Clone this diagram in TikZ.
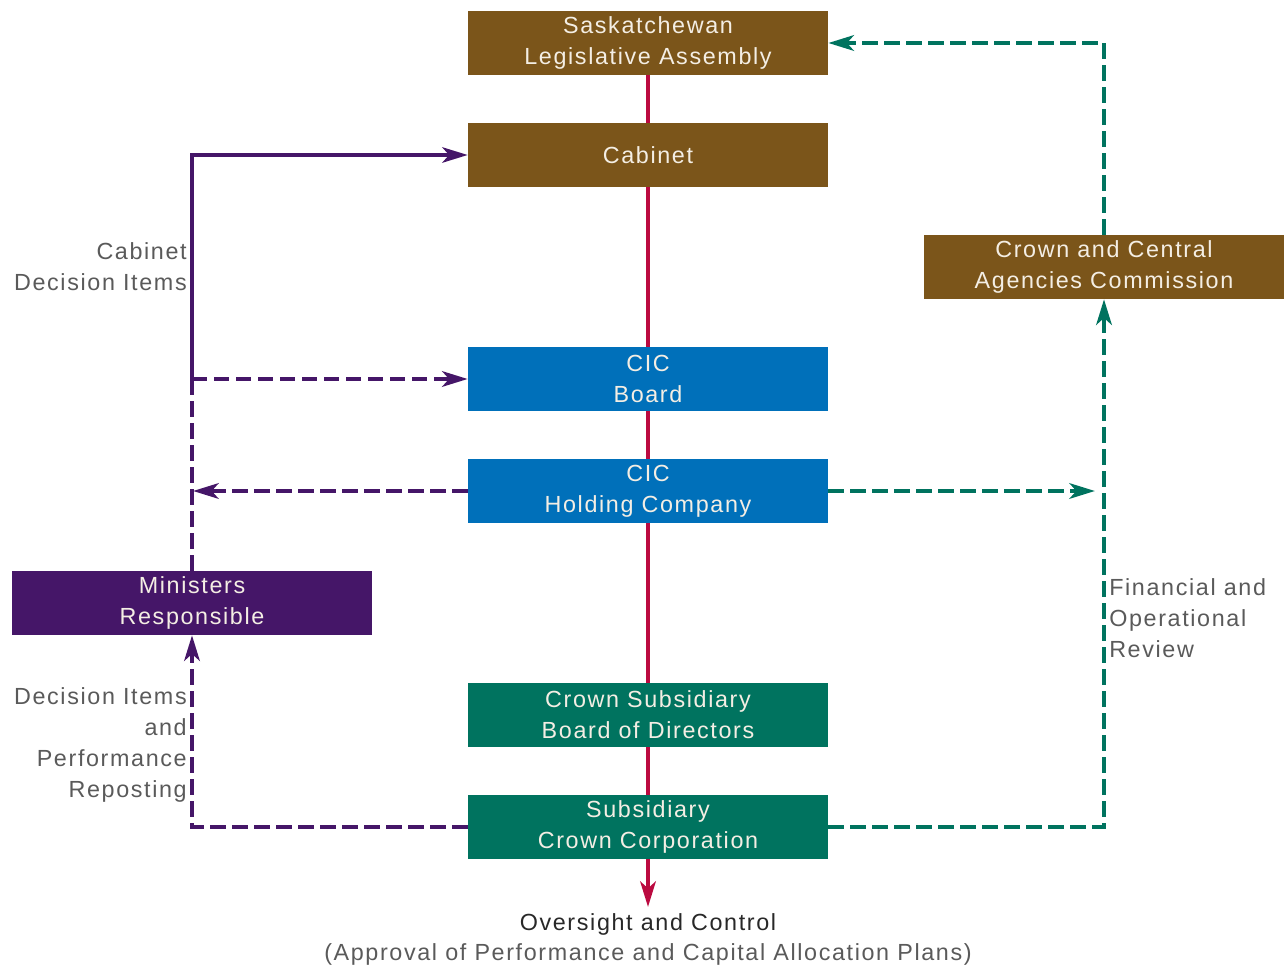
\documentclass[tikz,border=0pt]{standalone}
\usepackage{fontspec}
\setmainfont{Liberation Sans}[LetterSpace=7]
\usetikzlibrary{arrows.meta}
\definecolor{cbrown}{RGB}{123,85,26}
\definecolor{cblue}{RGB}{0,112,186}
\definecolor{cgreen}{RGB}{0,115,95}
\definecolor{cpurple}{RGB}{69,22,104}
\definecolor{cred}{RGB}{187,10,64}
\definecolor{boxtext}{RGB}{244,238,228}
\definecolor{labtext}{RGB}{90,90,90}
\definecolor{darktext}{RGB}{40,40,40}
\tikzset{
  box/.style={rectangle, inner sep=0pt, minimum width=270pt, minimum height=48pt,
    text=boxtext, align=center, font=\fontsize{17.5pt}{23.25pt}\selectfont},
  brownbox/.style={box, fill=cbrown},
  bluebox/.style={box, fill=cblue},
  greenbox/.style={box, fill=cgreen},
  purplebox/.style={box, fill=cpurple},
  lab/.style={inner sep=0pt, text=labtext, font=\fontsize{17.5pt}{23.25pt}\selectfont},
  tip/.style={-{Stealth[length=19pt,width=11.5pt,inset=5pt]}},
  redline/.style={draw=cred, line width=3.6pt},
  solidp/.style={draw=cpurple, line width=3pt},
  dashp/.style={draw=cpurple, line width=3.5pt, dash pattern=on 11.5pt off 5pt},
  dashg/.style={draw=cgreen, line width=3.5pt, dash pattern=on 11.5pt off 5pt},
}
\begin{document}
\begin{tikzpicture}[x=0.75pt, y=-0.75pt]
\useasboundingbox (0,0) rectangle (1285,966);
% nodes
\node[brownbox] (sask) at (648,43) {\raisebox{-1.5pt}{\parbox{260pt}{\centering Saskatchewan\\Legislative Assembly}}};
\node[brownbox] (cab) at (648,155) {Cabinet};
\node[bluebox] (board) at (648,379) {\raisebox{-1.5pt}{\parbox{260pt}{\centering CIC\\Board}}};
\node[bluebox] (hold) at (648,491) {\raisebox{-1.5pt}{\parbox{260pt}{\centering CIC\\Holding Company}}};
\node[greenbox] (subboard) at (648,715) {\raisebox{-1.5pt}{\parbox{260pt}{\centering Crown Subsidiary\\Board of Directors}}};
\node[greenbox] (corp) at (648,827) {\raisebox{-1.5pt}{\parbox{260pt}{\centering Subsidiary\\Crown Corporation}}};
\node[brownbox] (ccac) at (1104,267) {\raisebox{-1.5pt}{\parbox{260pt}{\centering Crown and Central\\Agencies Commission}}};
\node[purplebox] (min) at (192,603) {\raisebox{-1.5pt}{\parbox{260pt}{\centering Ministers\\Responsible}}};
% coordinates
\coordinate (oc) at (648,907);
\coordinate (jb) at (192,379);
\coordinate (jh) at (193,491);
\coordinate (gh) at (1095,491);
% red line
\draw[redline] (sask) -- (cab);
\draw[redline] (cab) -- (board);
\draw[redline] (board) -- (hold);
\draw[redline] (hold) -- (subboard);
\draw[redline] (subboard) -- (corp);
\draw[redline, tip] (corp) -- (oc);
% purple
\draw[solidp, tip] (jb) |- (cab.west);
\draw[dashp] (min.north) -- (jb);
\draw[dashp, tip] (jb) -- (board.west);
\draw[dashp, tip] (hold.west) -- (jh);
\draw[dashp, tip] (corp.west) -| (min.south);
% green
\draw[dashg, tip] (corp.east) -| (ccac.south);
\draw[dashg, tip] (hold.east) -- (gh);
\draw[dashg, tip] (ccac.north) |- (sask.east);
% labels
\node[lab, anchor=east, align=right] (l1) at (187,267) {Cabinet\\Decision Items};
\node[lab, anchor=east, align=right] (l2) at (187,745) {Decision Items\\and\\Performance\\Reposting};
\node[lab, anchor=west, align=left] (l3) at (1109,618) {Financial and\\Operational\\Review};
\node[lab, text=darktext] (l4) at (648,924) {Oversight and Control};
\node[lab] (l5) at (648,954) {(Approval of Performance and Capital Allocation Plans)};
\end{tikzpicture}
\end{document}
